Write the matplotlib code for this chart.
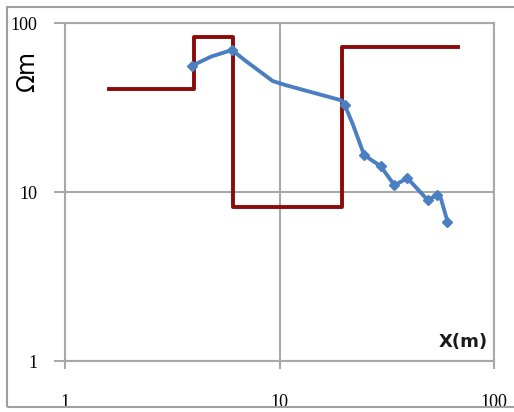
import numpy as np
import matplotlib
matplotlib.use('Agg')
import matplotlib.pyplot as plt
from matplotlib.patches import Rectangle

# measured apparent resistivity (blue curve)
x_meas = [3.9, 4.8, 6.0, 7.0, 9.3, 10.7, 19.4, 20.1, 21.9, 24.8, 29.7, 34.3, 39.5, 49.0, 54.5, 56.5, 60.7]
rho_meas = [56.0, 63.5, 69.5, 59.5, 45.5, 43.0, 35.0, 33.0, 25.5, 16.6, 14.2, 11.0, 12.1, 9.0, 9.6, 9.2, 6.7]
marked = [0, 2, 7, 9, 10, 11, 12, 13, 14, 16]

# layered model (red step line)
x_model = [1.6, 4.0, 4.0, 6.1, 6.1, 19.5, 19.5, 68.0]
rho_model = [41.0, 41.0, 83.0, 83.0, 8.2, 8.2, 72.5, 72.5]

x_ticks = [1, 10, 100]
y_ticks = [1, 10, 100]

fig = plt.figure(figsize=(5.14, 4.12), dpi=100)
fig.patches.append(Rectangle((7/514, 5/412), 1.0, 400/412, transform=fig.transFigure,
                             fill=False, edgecolor='#a0a0a0', linewidth=1.5))

ax = fig.add_axes([65/514, 51/412, 429/514, 337.7/412])
ax.set_xscale('log')
ax.set_yscale('log')
ax.set_xlim(1, 100)
ax.set_ylim(1, 100)

ax.plot(x_model, rho_model, color='#8b0a0a', linewidth=2.8, zorder=3)
ax.plot(x_meas, rho_meas, color='#4a7fc1', linewidth=2.8, marker='D', markersize=5.5,
        markevery=marked, markeredgecolor='#4a7fc1', zorder=4)

ax.set_xticks(x_ticks)
ax.set_xticklabels([str(v) for v in x_ticks])
ax.set_yticks(y_ticks)
ax.set_yticklabels([str(v) for v in y_ticks])
ax.minorticks_off()
ax.tick_params(axis='both', which='both', color='#a8a8a8', width=1.5, labelsize=13)
ax.tick_params(axis='x', length=6, pad=18)
ax.tick_params(axis='y', length=8, pad=12)
for lab in ax.get_xticklabels() + ax.get_yticklabels():
    lab.set_fontfamily('Liberation Serif')

ax.grid(True, color='#a8a8a8', linewidth=1.5)
for s in ax.spines.values():
    s.set_color('#a8a8a8')
    s.set_linewidth(1.5)

fig.text(27/514, 1 - 72/412, 'Ωm', rotation=90, fontsize=17, ha='center', va='center')
ax.text(0.985, 0.03, 'X(m)', transform=ax.transAxes, fontsize=13, fontweight='bold',
        ha='right', va='bottom', color='#1a1a1a')

plt.savefig('out.png', dpi=100)
